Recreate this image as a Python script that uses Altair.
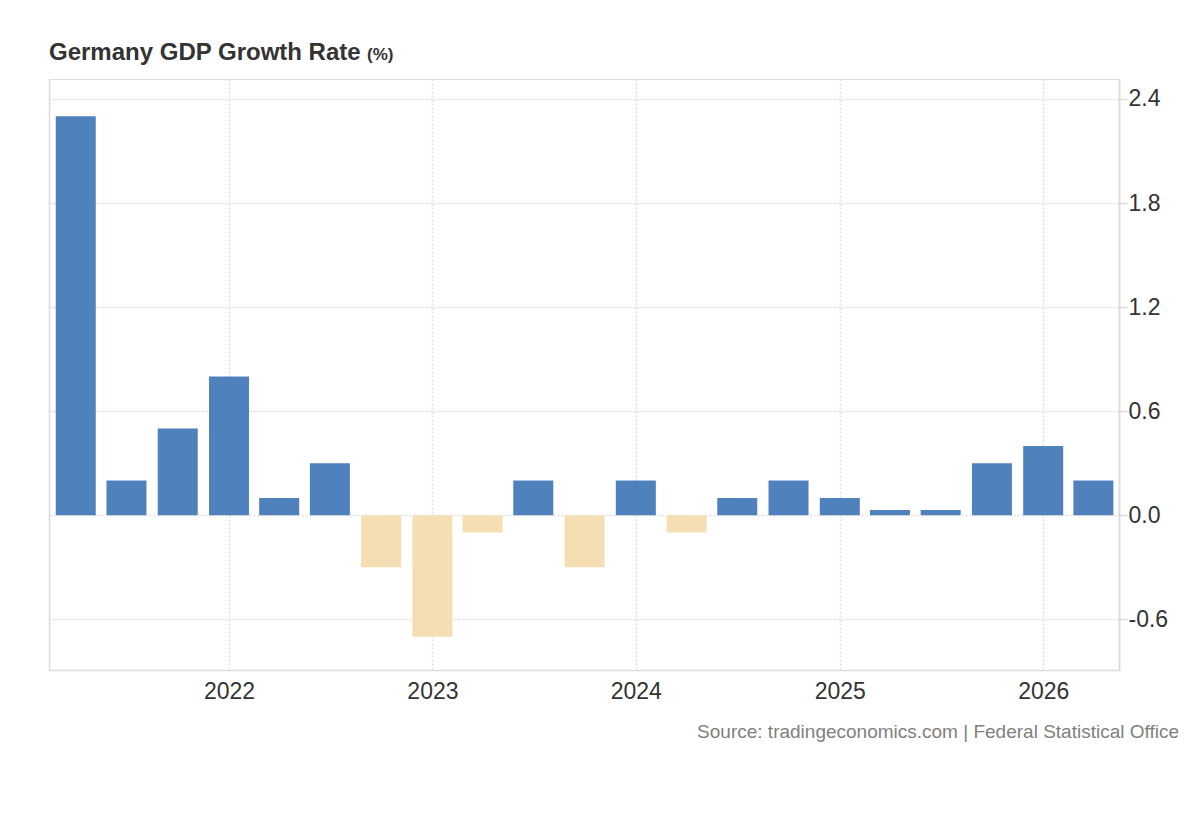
import altair as alt
import pandas as pd

# ---- data ----
quarters = [
    "2021-04-01", "2021-07-01", "2021-10-01",
    "2022-01-01", "2022-04-01", "2022-07-01", "2022-10-01",
    "2023-01-01", "2023-04-01", "2023-07-01", "2023-10-01",
    "2024-01-01", "2024-04-01", "2024-07-01", "2024-10-01",
    "2025-01-01", "2025-04-01", "2025-07-01", "2025-10-01",
    "2026-01-01", "2026-04-01",
]
growth = [2.3, 0.2, 0.5,
          0.8, 0.1, 0.3, -0.3,
          -0.7, -0.1, 0.2, -0.3,
          0.2, -0.1, 0.1, 0.2,
          0.1, 0.03, 0.03, 0.3,
          0.4, 0.2]
year_ticks = [2022, 2023, 2024, 2025, 2026]
y_ticks = [-0.6, 0.0, 0.6, 1.2, 1.8, 2.4]

title_text = "Germany GDP Growth Rate"
unit_text = "(%)"
source_text = "Source: tradingeconomics.com | Federal Statistical Office"

BLUE = "#4f81bd"
TAN = "#f5deb3"
GRID = "#dddddd"
AXIS = "#dcdcdc"
FONT = "Liberation Sans"

df = pd.DataFrame({"date": quarters, "value": growth})

x_scale = alt.Scale(
    type="utc",
    padding=0,
    domain=[alt.DateTime(year=2021, month=2, date=12, utc=True),
            alt.DateTime(year=2026, month=5, date=17, utc=True)],
)
y_scale = alt.Scale(domain=[-0.892, 2.515], nice=False, zero=False)

bars = alt.Chart(df).mark_bar(size=40).encode(
    x=alt.X(
        "date:T",
        scale=x_scale,
        axis=alt.Axis(
            values=[alt.DateTime(year=y, month=1, date=1, utc=True) for y in year_ticks],
            format="%Y",
            ticks=False,
            grid=True,
            gridDash=[2, 2],
            gridColor=GRID,
            gridWidth=1.5,
            domainColor=AXIS,
            domainWidth=1.5,
            labelFontSize=23,
            labelColor="#333333",
            labelPadding=10,
            labelFont=FONT,
            title=None,
        ),
    ),
    y=alt.Y(
        "value:Q",
        scale=y_scale,
        axis=alt.Axis(
            orient="right",
            values=y_ticks,
            labelExpr="datum.value < 0 ? '-' + format(-datum.value, '.1f') : format(datum.value, '.1f')",
            grid=True,
            gridDash=[2, 2],
            gridColor=GRID,
            gridWidth=1.5,
            domainColor=AXIS,
            domainWidth=2,
            tickColor=AXIS,
            tickSize=8,
            tickWidth=1.5,
            labelFontSize=23,
            labelColor="#333333",
            labelPadding=1,
            labelFont=FONT,
            title=None,
        ),
    ),
    color=alt.condition("datum.value >= 0", alt.value(BLUE), alt.value(TAN)),
)

left_axis = alt.Chart(df).mark_point(opacity=0).encode(
    y=alt.Y(
        "value:Q",
        scale=y_scale,
        axis=alt.Axis(
            orient="left",
            labels=False,
            ticks=False,
            grid=False,
            domainColor=AXIS,
            domainWidth=1.5,
            title=None,
        ),
    ),
)

title = alt.Chart(alt.Data(values=[{}])).mark_text(
    text=title_text, font=FONT, fontSize=24, fontWeight="bold", color="#333333",
    align="left", baseline="alphabetic",
).encode(x=alt.value(0), y=alt.value(-19))

unit = alt.Chart(alt.Data(values=[{}])).mark_text(
    text=unit_text, font=FONT, fontSize=17, fontWeight="bold", color="#333333",
    align="left", baseline="alphabetic",
).encode(x=alt.value(318), y=alt.value(-19))

source = alt.Chart(alt.Data(values=[{}])).mark_text(
    text=source_text, font=FONT, fontSize=19, color="#808080",
    align="right", baseline="alphabetic",
).encode(x=alt.value(1130), y=alt.value(659))

chart = (
    alt.layer(bars, left_axis, title, unit, source)
    .resolve_axis(y="independent")
    .properties(
        width=1070,
        height=591,
        autosize=alt.AutoSizeParams(type="none"),
        padding={"left": 41, "top": 71, "right": 70, "bottom": 80},
    )
    .configure_view(stroke=GRID, strokeDash=[2, 2], strokeWidth=1.5)
    .configure(font=FONT)
)

chart.save("out.html", embed_options={"renderer": "svg", "actions": False})
